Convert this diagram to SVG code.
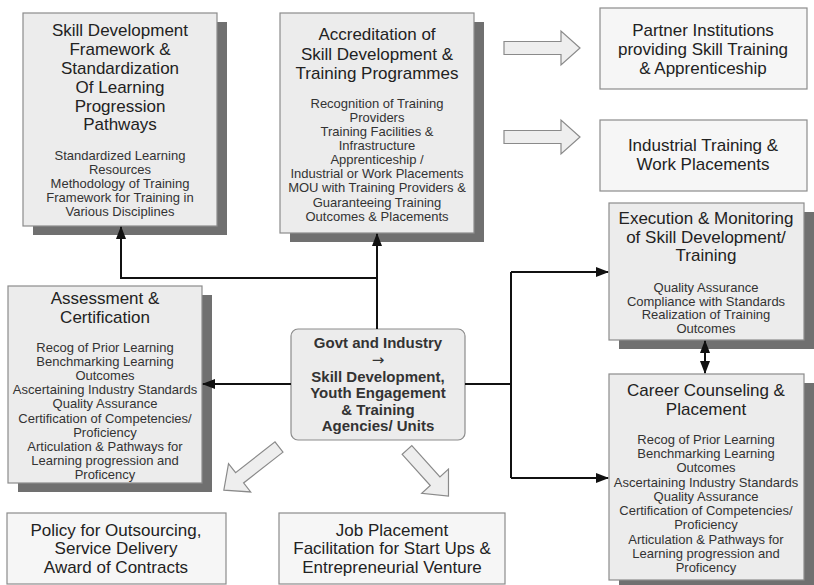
<svg xmlns="http://www.w3.org/2000/svg" width="814" height="585" viewBox="0 0 814 585">
  <style>
    .box { fill: #ececec; stroke: #8c8c8c; stroke-width: 1.2; }
    .light { fill: #f6f6f6; stroke: #8c8c8c; stroke-width: 1.2; }
    .shadow { fill: #707070; }
    .title { font-family: "Liberation Sans", Arial, sans-serif; font-size: 17px; fill: #222; text-anchor: middle; }
    .item { font-family: "Liberation Sans", Arial, sans-serif; font-size: 13px; fill: #333; text-anchor: middle; }
    .hub { font-family: "Liberation Sans", "DejaVu Sans", Arial, sans-serif; font-size: 15px; font-weight: bold; fill: #333; text-anchor: middle; }
    .wire { fill: none; stroke: #111; stroke-width: 2; }
    .block { fill: #eeeeee; stroke: #8a8a8a; stroke-width: 1.2; stroke-linejoin: miter; }
  </style>
  <defs>
    <marker id="head" markerUnits="userSpaceOnUse" markerWidth="13" markerHeight="10" refX="12" refY="5" orient="auto-start-reverse">
      <path d="M0,0 L13,5 L0,10 z" fill="#111"/>
    </marker>
  </defs>

  <rect width="814" height="585" fill="#ffffff"/>

  <!-- Skill development framework -->
  <g id="framework">
    <rect class="shadow" x="33" y="22" width="194" height="213"/>
    <rect class="box" x="23" y="13" width="194" height="213"/>
    <text class="title" x="120" y="36">Skill Development</text>
    <text class="title" x="120" y="55">Framework &amp;</text>
    <text class="title" x="120" y="74">Standardization</text>
    <text class="title" x="120" y="93">Of Learning</text>
    <text class="title" x="120" y="112">Progression</text>
    <text class="title" x="120" y="130">Pathways</text>
    <text class="item" x="120" y="160">Standardized Learning</text>
    <text class="item" x="120" y="174">Resources</text>
    <text class="item" x="120" y="188">Methodology of Training</text>
    <text class="item" x="120" y="202">Framework for Training in</text>
    <text class="item" x="120" y="216">Various Disciplines</text>
  </g>

  <!-- Accreditation -->
  <g id="accreditation">
    <rect class="shadow" x="290" y="22" width="194" height="220"/>
    <rect class="box" x="280" y="13" width="194" height="220"/>
    <text class="title" x="377" y="40">Accreditation of</text>
    <text class="title" x="377" y="60">Skill Development &amp;</text>
    <text class="title" x="377" y="79">Training Programmes</text>
    <text class="item" x="377" y="108">Recognition of Training</text>
    <text class="item" x="377" y="122">Providers</text>
    <text class="item" x="377" y="136">Training Facilities &amp;</text>
    <text class="item" x="377" y="150">Infrastructure</text>
    <text class="item" x="377" y="164">Apprenticeship /</text>
    <text class="item" x="377" y="178">Industrial or Work Placements</text>
    <text class="item" x="377" y="192">MOU with Training Providers &amp;</text>
    <text class="item" x="377" y="207">Guaranteeing Training</text>
    <text class="item" x="377" y="221">Outcomes &amp; Placements</text>
  </g>

  <!-- Partner institutions -->
  <g id="partners">
    <rect class="light" x="600" y="8" width="207" height="81"/>
    <text class="title" x="703" y="36">Partner Institutions</text>
    <text class="title" x="703" y="55">providing Skill Training</text>
    <text class="title" x="703" y="74">&amp; Apprenticeship</text>
  </g>

  <!-- Industrial training -->
  <g id="industrial">
    <rect class="light" x="600" y="120" width="207" height="71"/>
    <text class="title" x="703" y="151">Industrial Training &amp;</text>
    <text class="title" x="703" y="170">Work Placements</text>
  </g>

  <!-- Execution and monitoring -->
  <g id="execution">
    <rect class="shadow" x="619" y="212" width="195" height="137"/>
    <rect class="box" x="609" y="203" width="195" height="137"/>
    <text class="title" x="706" y="224">Execution &amp; Monitoring</text>
    <text class="title" x="706" y="243">of Skill Development/</text>
    <text class="title" x="706" y="261">Training</text>
    <text class="item" x="706" y="292" font-size="12.5">Quality Assurance</text>
    <text class="item" x="706" y="305.5" font-size="12.5">Compliance with Standards</text>
    <text class="item" x="706" y="319" font-size="12.5">Realization of Training</text>
    <text class="item" x="706" y="332.5" font-size="12.5">Outcomes</text>
  </g>

  <!-- Career counseling -->
  <g id="career">
    <rect class="shadow" x="619" y="383" width="195" height="206"/>
    <rect class="box" x="609" y="374" width="195" height="206"/>
    <text class="title" x="706" y="396">Career Counseling &amp;</text>
    <text class="title" x="706" y="415">Placement</text>
    <text class="item" x="706" y="444">Recog of Prior Learning</text>
    <text class="item" x="706" y="458">Benchmarking Learning</text>
    <text class="item" x="706" y="472">Outcomes</text>
    <text class="item" x="706" y="487">Ascertaining Industry Standards</text>
    <text class="item" x="706" y="501">Quality Assurance</text>
    <text class="item" x="706" y="515">Certification of Competencies/</text>
    <text class="item" x="706" y="529">Proficiency</text>
    <text class="item" x="706" y="544">Articulation &amp; Pathways for</text>
    <text class="item" x="706" y="558">Learning progression and</text>
    <text class="item" x="706" y="572">Proficency</text>
  </g>

  <!-- Assessment and certification -->
  <g id="assessment">
    <rect class="shadow" x="18" y="295" width="194" height="197"/>
    <rect class="box" x="8" y="286" width="194" height="197"/>
    <text class="title" x="105" y="304" font-size="16">Assessment &amp;</text>
    <text class="title" x="105" y="322.5" font-size="16">Certification</text>
    <text class="item" x="105" y="352">Recog of Prior Learning</text>
    <text class="item" x="105" y="366">Benchmarking Learning</text>
    <text class="item" x="105" y="380">Outcomes</text>
    <text class="item" x="105" y="394">Ascertaining Industry Standards</text>
    <text class="item" x="105" y="408">Quality Assurance</text>
    <text class="item" x="105" y="423">Certification of Competencies/</text>
    <text class="item" x="105" y="437">Proficiency</text>
    <text class="item" x="105" y="451">Articulation &amp; Pathways for</text>
    <text class="item" x="105" y="465">Learning progression and</text>
    <text class="item" x="105" y="479">Proficency</text>
  </g>

  <!-- Central agency -->
  <g id="hub">
    <rect class="box" x="291" y="329" width="174" height="111" rx="7" ry="7"/>
    <text class="hub" x="378" y="348">Govt and Industry</text>
    <text class="hub" x="378" y="365" style="font-family:'DejaVu Sans',sans-serif;font-weight:normal;font-size:15px">→</text>
    <text class="hub" x="378" y="382">Skill Development,</text>
    <text class="hub" x="378" y="398">Youth Engagement</text>
    <text class="hub" x="378" y="415">&amp; Training</text>
    <text class="hub" x="378" y="431">Agencies/ Units</text>
  </g>

  <!-- Outsourcing policy -->
  <g id="policy">
    <rect class="light" x="7" y="513" width="219" height="71"/>
    <text class="title" x="116" y="536">Policy for Outsourcing,</text>
    <text class="title" x="116" y="554">Service Delivery</text>
    <text class="title" x="116" y="573">Award of Contracts</text>
  </g>

  <!-- Job placement -->
  <g id="jobs">
    <rect class="light" x="279" y="513" width="226" height="71"/>
    <text class="title" x="392" y="536">Job Placement</text>
    <text class="title" x="392" y="554">Facilitation for Start Ups &amp;</text>
    <text class="title" x="392" y="573">Entrepreneurial Venture</text>
  </g>

  <!-- connectors, drawn last so arrowheads sit over the drop shadows -->
  <g id="connectors">
    <path class="wire" d="M377,329 V234" marker-end="url(#head)"/>
    <path class="wire" d="M377,278 H121 V227" marker-end="url(#head)"/>
    <path class="wire" d="M291,384 H203" marker-end="url(#head)"/>
    <path class="wire" d="M465,384 H511"/>
    <path class="wire" d="M511,272 V478"/>
    <path class="wire" d="M511,272 H608" marker-end="url(#head)"/>
    <path class="wire" d="M511,478 H608" marker-end="url(#head)"/>
    <path class="wire" d="M705,341 V373" marker-start="url(#head)" marker-end="url(#head)"/>
    <!-- block arrows -->
    <polygon class="block" transform="translate(504,48)" points="0,-6.5 57,-6.5 57,-17 76,0 57,17 57,6.5 0,6.5"/>
    <polygon class="block" transform="translate(504,137)" points="0,-6.5 57,-6.5 57,-17 76,0 57,17 57,6.5 0,6.5"/>
    <polygon class="block" transform="translate(279,447) rotate(142)" points="0,-6.5 50,-6.5 50,-18 70,0 50,18 50,6.5 0,6.5"/>
    <polygon class="block" transform="translate(407,450) rotate(48)" points="0,-6.5 42,-6.5 42,-18 62,0 42,18 42,6.5 0,6.5"/>
  </g>
</svg>
